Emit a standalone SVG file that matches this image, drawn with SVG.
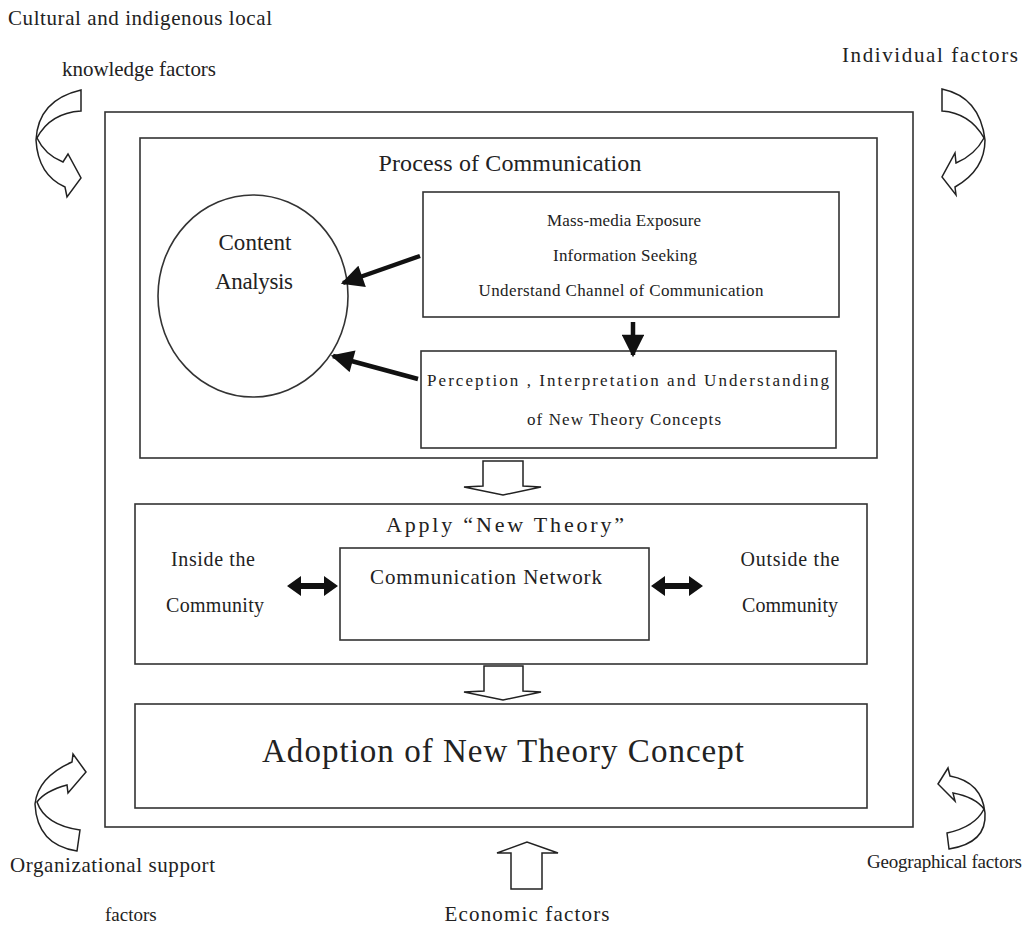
<svg xmlns="http://www.w3.org/2000/svg" width="1026" height="950" viewBox="0 0 1026 950">
<style>
.box{fill:#fff;stroke:#333;stroke-width:1.6}
.hollow{fill:#fff;stroke:#222;stroke-width:1.5;stroke-linejoin:miter}
text{font-family:"Liberation Serif","Times New Roman",serif;fill:#222}
.lbl{font-size:21px}
.mid{text-anchor:middle}
.sm{font-size:17px}
.thick{stroke:#111;stroke-width:4.5;fill:none}
</style>
<defs>
<marker id="ah" viewBox="0 0 10 10" refX="9" refY="5" markerWidth="5.2" markerHeight="5" markerUnits="strokeWidth" orient="auto">
<path d="M0,0 L10,5 L0,10 Z" fill="#111"/>
</marker>
</defs>
<rect width="1026" height="950" fill="#fff"/>

<g id="outer"><rect class="box" x="105" y="112" width="808" height="715"/></g>

<g id="process">
<rect class="box" x="140" y="138" width="737" height="320"/>
<text class="mid" x="510" y="171" font-size="24" textLength="263" lengthAdjust="spacing">Process of Communication</text>
</g>

<g id="content-analysis">
<ellipse class="box" cx="253" cy="296" rx="95" ry="101"/>
<text class="mid" x="255" y="250" font-size="23" textLength="73" lengthAdjust="spacing">Content</text>
<text class="mid" x="254" y="289" font-size="23" textLength="78" lengthAdjust="spacing">Analysis</text>
</g>

<g id="mass-media">
<rect class="box" x="423" y="192" width="416" height="125"/>
<text class="mid sm" x="624" y="226" textLength="154" lengthAdjust="spacing">Mass-media Exposure</text>
<text class="mid sm" x="625" y="261" textLength="144" lengthAdjust="spacing">Information Seeking</text>
<text class="mid sm" x="621" y="296" textLength="285" lengthAdjust="spacing">Understand Channel of Communication</text>
</g>

<g id="perception">
<rect class="box" x="421" y="351" width="415" height="97"/>
<text class="mid sm" x="628" y="386" textLength="402" lengthAdjust="spacing">Perception , Interpretation and Understanding</text>
<text class="mid sm" x="624" y="425" textLength="194" lengthAdjust="spacing">of New Theory Concepts</text>
</g>

<g id="apply">
<rect class="box" x="135" y="504" width="732" height="160"/>
<text class="mid" x="505" y="532" font-size="22" textLength="238" lengthAdjust="spacing">Apply “New Theory”</text>
<text class="mid" x="213" y="566" font-size="20" textLength="84" lengthAdjust="spacing">Inside the</text>
<text class="mid" x="215" y="612" font-size="20" textLength="98" lengthAdjust="spacing">Community</text>
<text class="mid" x="790" y="566" font-size="20" textLength="99" lengthAdjust="spacing">Outside the</text>
<text class="mid" x="790" y="612" font-size="20" textLength="96" lengthAdjust="spacing">Community</text>
</g>

<g id="network">
<rect class="box" x="340" y="548" width="309" height="92"/>
<text class="mid" x="486" y="584" font-size="21" textLength="232" lengthAdjust="spacing">Communication Network</text>
</g>

<g id="adoption">
<rect class="box" x="135" y="704" width="732" height="104"/>
<text class="mid" x="503" y="762" font-size="33" textLength="482" lengthAdjust="spacing">Adoption of New Theory Concept</text>
</g>

<g id="connectors">
<line class="thick" x1="420" y1="256" x2="343" y2="283" marker-end="url(#ah)"/>
<line class="thick" x1="418" y1="379" x2="333" y2="356" marker-end="url(#ah)"/>
<line class="thick" x1="633" y1="322" x2="633" y2="355" marker-end="url(#ah)"/>
<path d="M287,586 L301,576 L301,583 L324,583 L324,576 L338,586 L324,596 L324,589 L301,589 L301,596 Z" fill="#111"/>
<path d="M651,586 L665,576 L665,583 L689,583 L689,576 L703,586 L689,596 L689,589 L665,589 L665,596 Z" fill="#111"/>
<path class="hollow" d="M483,461 L523,461 L523,486 L541,487 L503,495 L464,487 L483,486 Z"/>
<path class="hollow" d="M484,666 L523,666 L523,691 L541,692 L503,700 L464,692 L484,691 Z"/>
<path class="hollow" d="M511,889 L542,889 L542,853 L558,853 L527,842 L497,853 L511,853 Z"/>
<path class="hollow" d="M81,90 L81,111 Q50,113 37,138 Q45,155 63,162 L68,154 L81,178 L67,197 L65,187 Q38,175 36,140 Q38,100 81,90 Z"/>
<path class="hollow" d="M942,89 L942,111 Q970,113 984,138 Q975,155 956,163 L955,153 L942,177 L956,195 L955,187 Q985,170 985,140 Q980,97 942,89 Z"/>
<path class="hollow" d="M80,830 L77,851 Q37,845 35,804 Q38,777 72,762 L73,754 L86,772 L68,793 L67,785 Q45,791 37,802 Q45,825 80,830 Z"/>
<path class="hollow" d="M947,833 L949,849 Q987,843 985,813 Q982,782 950,776 L948,768 L938,784 L955,801 L953,793 Q975,797 984,809 Q975,827 947,833 Z"/>
</g>

<g id="factors">
<text class="lbl" x="8" y="25" textLength="264" lengthAdjust="spacing">Cultural and indigenous local</text>
<text class="lbl" x="62" y="76" textLength="154" lengthAdjust="spacing">knowledge factors</text>
<text class="lbl" x="842" y="62" textLength="176" lengthAdjust="spacing">Individual factors</text>
<text class="lbl" x="10" y="872" textLength="205" lengthAdjust="spacing">Organizational support</text>
<text x="105" y="921" font-size="19">factors</text>
<text x="867" y="868" font-size="19" textLength="155" lengthAdjust="spacing">Geographical factors</text>
<text class="lbl mid" x="527" y="921" textLength="165" lengthAdjust="spacing">Economic factors</text>
</g>
</svg>
